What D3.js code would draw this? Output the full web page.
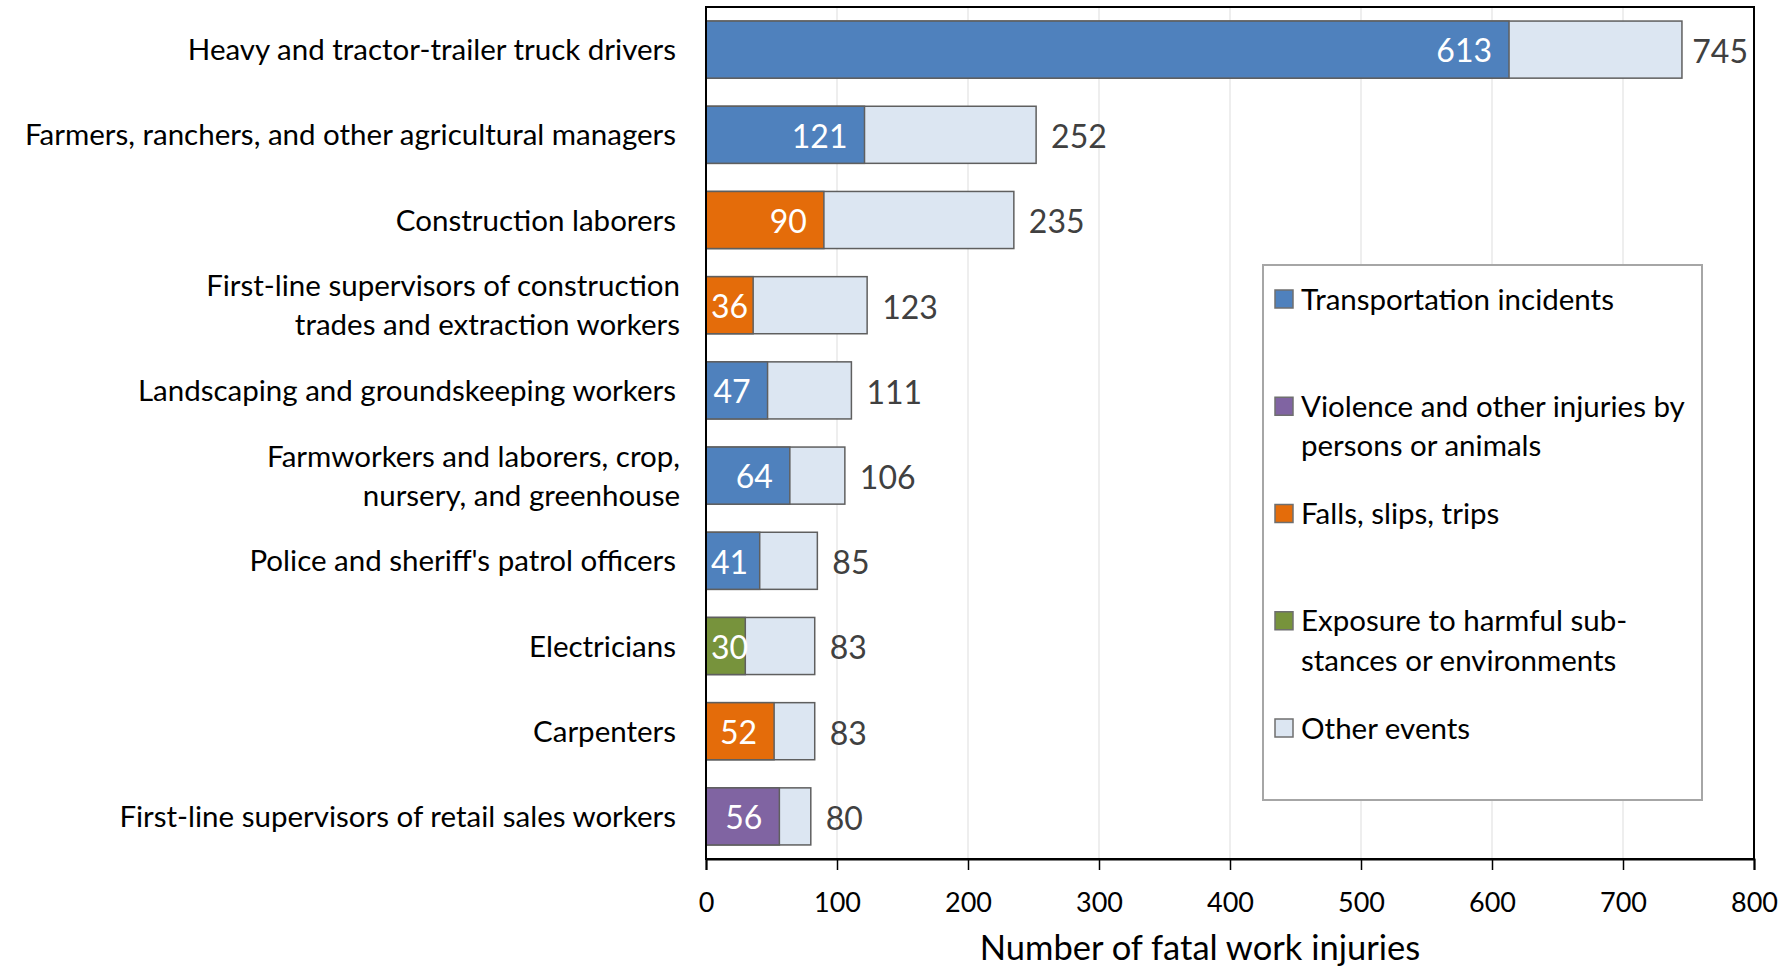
<!DOCTYPE html>
<html>
<head>
<meta charset="utf-8">
<script src="https://cdn.jsdelivr.net/npm/d3@7"></script>
<style>
  body { margin: 0; background: #fff; }
  text { font-family: Lato, "Open Sans", sans-serif; }
</style>
</head>
<body>
<script>
// occupations, top to bottom (lines split like the original)
const occupations = [
  ["Heavy and tractor-trailer truck drivers"],
  ["Farmers, ranchers, and other agricultural managers"],
  ["Construction laborers"],
  ["First-line supervisors of construction", "trades and extraction workers"],
  ["Landscaping and groundskeeping workers"],
  ["Farmworkers and laborers, crop,", "nursery, and greenhouse"],
  ["Police and sheriff's patrol officers"],
  ["Electricians"],
  ["Carpenters"],
  ["First-line supervisors of retail sales workers"]
];
// leading event count and its type, plus the total
const leadValues = [613, 121, 90, 36, 47, 64, 41, 30, 52, 56];
const leadEvent  = ["transport", "transport", "falls", "falls", "transport", "transport", "transport", "exposure", "falls", "violence"];
const totals     = [745, 252, 235, 123, 111, 106, 85, 83, 83, 80];

const eventKeys   = ["transport", "violence", "falls", "exposure", "other"];
const eventLabels = [
  ["Transportation incidents"],
  ["Violence and other injuries by", "persons or animals"],
  ["Falls, slips, trips"],
  ["Exposure to harmful sub-", "stances or environments"],
  ["Other events"]
];
const xTicks = [0, 100, 200, 300, 400, 500, 600, 700, 800];

const colors = d3.scaleOrdinal()
  .domain(eventKeys)
  .range(["#4f81bd", "#8064a2", "#e46c0a", "#77933c", "#dce6f2"]);

const W = 1792, H = 967;
const pLeft = 706, pRight = 1754, pTop = 7, pBottom = 859;

const svg = d3.select("body").append("svg")
  .attr("width", W)
  .attr("height", H);

const x = d3.scaleLinear().domain([0, 800]).range([pLeft, pRight]);
const y = d3.scaleBand()
  .domain(d3.range(occupations.length))
  .range([pTop, pBottom])
  .paddingInner(0.33)
  .paddingOuter(0.165);

// gridlines
svg.append("g")
  .selectAll("line")
  .data(xTicks.filter(d => d > 0 && d < 800))
  .join("line")
  .attr("x1", d => x(d)).attr("x2", d => x(d))
  .attr("y1", pTop).attr("y2", pBottom)
  .attr("stroke", "#e8e8e8")
  .attr("stroke-width", 1.5);

const rows = occupations.map((lines, i) => ({
  i, lines, lead: leadValues[i], ev: leadEvent[i], total: totals[i]
}));

// other events (full bar behind)
svg.append("g")
  .selectAll("rect")
  .data(rows)
  .join("rect")
  .attr("x", x(0))
  .attr("y", d => y(d.i))
  .attr("width", d => x(d.total) - x(0))
  .attr("height", y.bandwidth())
  .attr("fill", colors("other"))
  .attr("stroke", "#5f5f5f")
  .attr("stroke-width", 1.5);

// leading event segment
svg.append("g")
  .selectAll("rect")
  .data(rows)
  .join("rect")
  .attr("x", x(0))
  .attr("y", d => y(d.i))
  .attr("width", d => x(d.lead) - x(0))
  .attr("height", y.bandwidth())
  .attr("fill", d => colors(d.ev))
  .attr("stroke", "#5f5f5f")
  .attr("stroke-width", 1.5);

// values inside the segment
svg.append("g")
  .selectAll("text")
  .data(rows)
  .join("text")
  .attr("y", d => y(d.i) + y.bandwidth() / 2)
  .attr("dy", "0.4em")
  .attr("fill", "#fff")
  .attr("font-size", 32)
  .text(d => d.lead)
  .each(function(d) {
    const w = this.getComputedTextLength();
    let xr = x(d.lead) - 17;
    if (xr - w < x(0) + 5) xr = x(0) + 5 + w;
    d3.select(this).attr("x", xr).attr("text-anchor", "end");
  });

// totals (kept inside the plot frame)
svg.append("g")
  .selectAll("text")
  .data(rows)
  .join("text")
  .attr("y", d => y(d.i) + y.bandwidth() / 2)
  .attr("dy", "0.42em")
  .attr("fill", "#404040")
  .attr("font-size", 32)
  .text(d => d.total)
  .each(function(d) {
    const w = this.getComputedTextLength();
    const xl = Math.min(x(d.total) + 15, pRight - 6 - w);
    d3.select(this).attr("x", xl);
  });

// category labels
const lab = svg.append("g")
  .selectAll("text")
  .data(rows)
  .join("text")
  .attr("text-anchor", "end")
  .attr("font-size", 29.5)
  .attr("fill", "#000")
  .attr("y", d => y(d.i) + y.bandwidth() / 2);
lab.selectAll("tspan")
  .data(d => d.lines.map((t, k) => ({ t, k, n: d.lines.length })))
  .join("tspan")
  .attr("x", d => d.n > 1 ? 680 : 676)
  .attr("dy", d => d.k === 0 ? (0.36 - (d.n - 1) * 0.66) + "em" : "1.32em")
  .text(d => d.t);

// plot border
svg.append("rect")
  .attr("x", pLeft).attr("y", pTop)
  .attr("width", pRight - pLeft).attr("height", pBottom - pTop)
  .attr("fill", "none")
  .attr("stroke", "#000")
  .attr("stroke-width", 2);

// x axis
const xAxis = svg.append("g")
  .attr("transform", `translate(0,${pBottom})`)
  .call(d3.axisBottom(x).tickValues(xTicks).tickSize(11).tickPadding(23));
xAxis.select(".domain").attr("stroke", "#000").attr("stroke-width", 2);
xAxis.selectAll(".tick line").attr("stroke", "#000").attr("stroke-width", 1.5);
xAxis.selectAll(".tick text")
  .attr("font-family", "Lato, sans-serif")
  .attr("font-size", 27)
  .attr("fill", "#000");

svg.append("text")
  .attr("x", 1200)
  .attr("y", 948)
  .attr("dy", "0.36em")
  .attr("text-anchor", "middle")
  .attr("font-size", 34.5)
  .attr("fill", "#000")
  .text("Number of fatal work injuries");

// legend
const lg = svg.append("g");
lg.append("rect")
  .attr("x", 1263).attr("y", 265)
  .attr("width", 439).attr("height", 535)
  .attr("fill", "#fff")
  .attr("stroke", "#a6a6a6")
  .attr("stroke-width", 2);

const ly = d3.scaleLinear().domain([0, 4]).range([299, 728]);
const items = lg.selectAll("g.item")
  .data(eventKeys)
  .join("g")
  .attr("class", "item")
  .attr("transform", (d, i) => `translate(1275,${ly(i)})`);
items.append("rect")
  .attr("x", 0).attr("y", -9)
  .attr("width", 18).attr("height", 18)
  .attr("fill", d => colors(d))
  .attr("stroke", "#6f6f6f")
  .attr("stroke-width", 1.5);
items.append("text")
  .attr("font-size", 29.5)
  .attr("fill", "#000")
  .selectAll("tspan")
  .data((d, i) => eventLabels[i])
  .join("tspan")
  .attr("x", 26)
  .attr("dy", (t, k) => k === 0 ? "0.36em" : "1.33em")
  .text(t => t);
</script>
</body>
</html>
